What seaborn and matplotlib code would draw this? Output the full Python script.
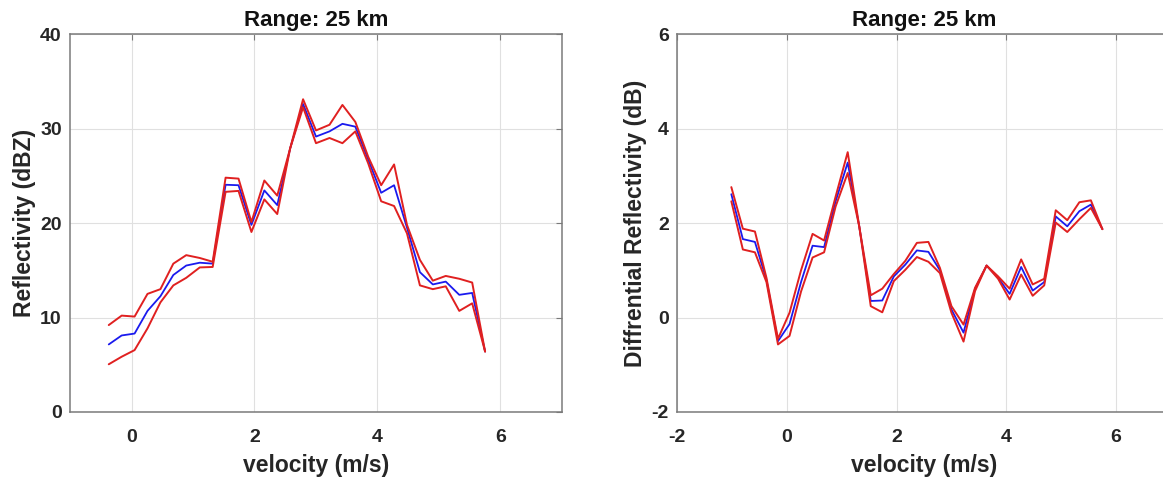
import numpy as np
import pandas as pd
import seaborn as sns
from matplotlib import pyplot as plt

# velocity bins (m/s), shared by both panels; reflectivity starts at the 4th bin
velocity = [-1.01, -0.80, -0.58, -0.37, -0.16, 0.05, 0.26, 0.47, 0.68, 0.89, 1.11,
            1.32, 1.53, 1.74, 1.95, 2.16, 2.37, 2.58, 2.79, 3.00, 3.22, 3.43,
            3.64, 3.85, 4.06, 4.27, 4.48, 4.69, 4.90, 5.11, 5.33, 5.54, 5.75]

zh_upper = [9.2, 10.2, 10.1, 12.5, 13.0, 15.7, 16.6, 16.3, 15.9, 24.8, 24.7, 20.1, 24.5, 22.9, 27.9,
            33.1, 29.8, 30.4, 32.5, 30.7, 27.0, 24.0, 26.2, 19.8, 16.1, 13.9, 14.4, 14.1, 13.7, 6.4]
zh_mean = [7.15, 8.1, 8.3, 10.7, 12.25, 14.5, 15.5, 15.8, 15.7, 24.05, 24.0, 19.8, 23.45, 21.9, 27.9,
           32.6, 29.15, 29.7, 30.5, 30.2, 26.7, 23.2, 24.0, 19.5, 14.8, 13.5, 13.8, 12.4, 12.6, 6.4]
zh_lower = [5.05, 5.85, 6.55, 8.85, 11.6, 13.4, 14.2, 15.3, 15.35, 23.3, 23.4, 19.05, 22.5, 20.95, 27.9,
            32.25, 28.45, 29.0, 28.45, 29.7, 26.3, 22.3, 21.8, 18.9, 13.4, 13.0, 13.3, 10.7, 11.5, 6.4]

zdr_upper = [2.76, 1.88, 1.82, 0.84, -0.45, 0.10, 1.00, 1.77, 1.63, 2.56, 3.50, 1.93, 0.47, 0.61, 0.92,
             1.20, 1.58, 1.60, 1.05, 0.24, -0.15, 0.63, 1.10, 0.87, 0.61, 1.23, 0.70, 0.82, 2.27, 2.06,
             2.44, 2.48, 1.87]
zdr_mean = [2.61, 1.66, 1.60, 0.80, -0.50, -0.14, 0.75, 1.52, 1.49, 2.46, 3.28, 1.93, 0.35, 0.36, 0.87,
            1.12, 1.42, 1.39, 1.00, 0.17, -0.32, 0.61, 1.10, 0.84, 0.50, 1.07, 0.57, 0.75, 2.14, 1.93,
            2.25, 2.39, 1.87]
zdr_lower = [2.46, 1.44, 1.38, 0.75, -0.57, -0.39, 0.55, 1.27, 1.38, 2.35, 3.06, 1.93, 0.24, 0.11, 0.77,
             1.01, 1.28, 1.18, 0.94, 0.10, -0.51, 0.56, 1.10, 0.82, 0.38, 0.91, 0.46, 0.68, 2.01, 1.81,
             2.08, 2.32, 1.87]

sns.set_theme(style='white')
plt.rcParams['font.family'] = ['Liberation Sans', 'DejaVu Sans']
plt.rcParams['font.weight'] = 'bold'
plt.rcParams['axes.labelweight'] = 'bold'
plt.rcParams['axes.titleweight'] = 'bold'
plt.rcParams['axes.unicode_minus'] = False

RED = '#e02020'
BLUE = '#1a1aee'
SPINE = '#7a7a7a'
TEXT = '#262626'


def style_axes(ax, xlim, ylim, xticks, yticks, ylabel):
    ax.set_xlim(*xlim)
    ax.set_ylim(*ylim)
    ax.set_xticks(xticks)
    ax.set_yticks(yticks)
    ax.grid(True, color='#e0e0e0', linewidth=0.8)
    for sp in ax.spines.values():
        sp.set_color(SPINE)
        sp.set_linewidth(1.1)
    ax.tick_params(direction='in', length=4, width=0.8, color=SPINE,
                   top=True, right=True, labelsize=14, labelcolor=TEXT)
    ax.tick_params(axis='x', pad=12)
    ax.tick_params(axis='y', pad=6)
    ax.set_xlabel('velocity (m/s)', fontsize=16.5, color=TEXT, labelpad=6)
    ax.set_ylabel(ylabel, fontsize=16.5, color=TEXT, labelpad=3)
    ax.set_title('Range: 25 km', fontsize=16, color='#111111', pad=6)


fig = plt.figure(figsize=(11.63, 4.79), dpi=100)
ax1 = fig.add_axes([0.0602, 0.1399, 0.4230, 0.789])
ax2 = fig.add_axes([0.5821, 0.1399, 0.4248, 0.789])

left = pd.DataFrame({'velocity': velocity[3:], 'upper': zh_upper, 'mean': zh_mean, 'lower': zh_lower})
right = pd.DataFrame({'velocity': velocity, 'upper': zdr_upper, 'mean': zdr_mean, 'lower': zdr_lower})

for ax, df in [(ax1, left), (ax2, right)]:
    sns.lineplot(df, x='velocity', y='mean', color=BLUE, linewidth=1.3, ax=ax)
    sns.lineplot(df, x='velocity', y='upper', color=RED, linewidth=1.4, ax=ax)
    sns.lineplot(df, x='velocity', y='lower', color=RED, linewidth=1.4, ax=ax)

style_axes(ax1, (-1, 7), (0, 40), [0, 2, 4, 6], [0, 10, 20, 30, 40], 'Reflectivity (dBZ)')
style_axes(ax2, (-2, 7), (-2, 6), [-2, 0, 2, 4, 6], [-2, 0, 2, 4, 6], 'Diffrential Reflectivity (dB)')

fig.savefig('out.png', dpi=100)
